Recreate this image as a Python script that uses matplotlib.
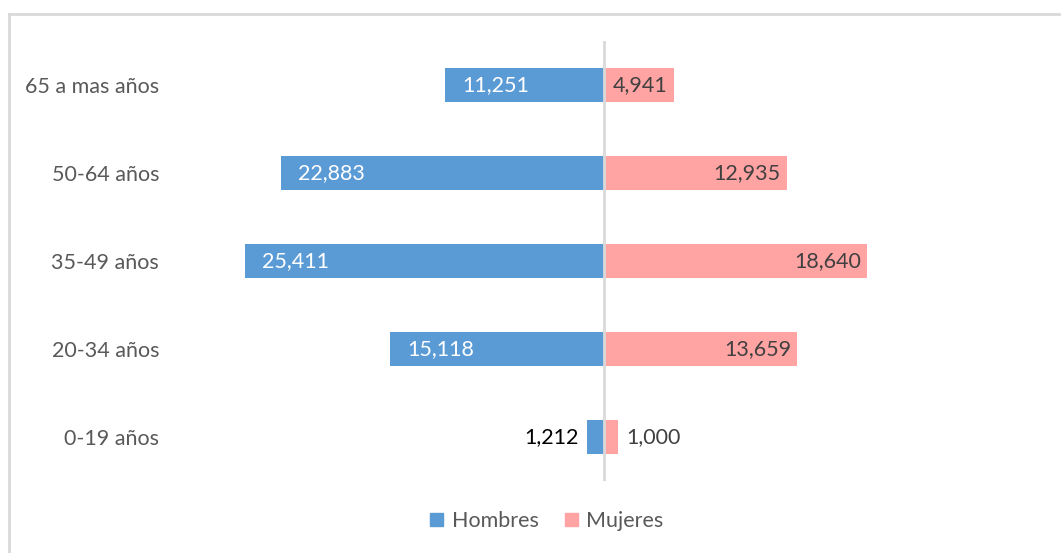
import matplotlib.pyplot as plt
from matplotlib.lines import Line2D
from matplotlib.patches import Patch

plt.rcParams['font.family'] = ['Lato', 'DejaVu Sans']

categories = ['0-19 años', '20-34 años', '35-49 años', '50-64 años', '65 a mas años']
hombres = [1212, 15118, 25411, 22883, 11251]
mujeres = [1000, 13659, 18640, 12935, 4941]

blue = '#5B9BD5'
pink = '#FFA3A3'
grey_text = '#595959'
fs = 15.5

fig = plt.figure(figsize=(10.61, 5.53), dpi=100)
W, H = 1061, 553
ax = fig.add_axes([180 / W, 1 - 481 / H, (1028 - 180) / W, (481 - 41) / H])

y = list(range(len(categories)))
ax.barh(y, [-v for v in hombres], height=0.39, color=blue)
ax.barh(y, mujeres, height=0.39, color=pink)

ax.set_xlim(-30000, 30000)
ax.set_ylim(-0.5, len(categories) - 0.5)
ax.axvline(0, color='#D9D9D9', lw=2, zorder=3)

ax.set_yticks(y)
ax.set_yticklabels(categories, fontsize=fs, color=grey_text)
ax.tick_params(axis='y', length=0, pad=15)
ax.set_xticks([])
for s in ax.spines.values():
    s.set_visible(False)

for yi, h, m in zip(y, hombres, mujeres):
    if h > 3000:
        ax.annotate(f'{h:,}', (-h, yi), xytext=(17, 0), textcoords='offset pixels',
                    ha='left', va='center', fontsize=fs, color='white')
    else:
        ax.annotate(f'{h:,}', (-h, yi), xytext=(-8, 0), textcoords='offset pixels',
                    ha='right', va='center', fontsize=fs, color='black')
    if m > 3000:
        ax.annotate(f'{m:,}', (m, yi), xytext=(-6, 0), textcoords='offset pixels',
                    ha='right', va='center', fontsize=fs, color='#404040')
    else:
        ax.annotate(f'{m:,}', (m, yi), xytext=(8, 0), textcoords='offset pixels',
                    ha='left', va='center', fontsize=fs, color='#404040')

handles = [Patch(color=blue, label='Hombres'), Patch(color=pink, label='Mujeres')]
fig.legend(handles=handles, loc='center', bbox_to_anchor=(547 / W, 1 - 521 / H), ncol=2,
           frameon=False, fontsize=fs, labelcolor=grey_text, handlelength=0.6,
           handleheight=0.6, handletextpad=0.4, columnspacing=1.2)

# chart frame (top and left edges visible)
fig.add_artist(Line2D([8.5 / W, 1.01], [1 - 13.5 / H] * 2, color='#D9D9D9', lw=2))
fig.add_artist(Line2D([8.5 / W] * 2, [1 - 13.5 / H, -0.01], color='#D9D9D9', lw=2))

fig.savefig('out.png', dpi=100)
